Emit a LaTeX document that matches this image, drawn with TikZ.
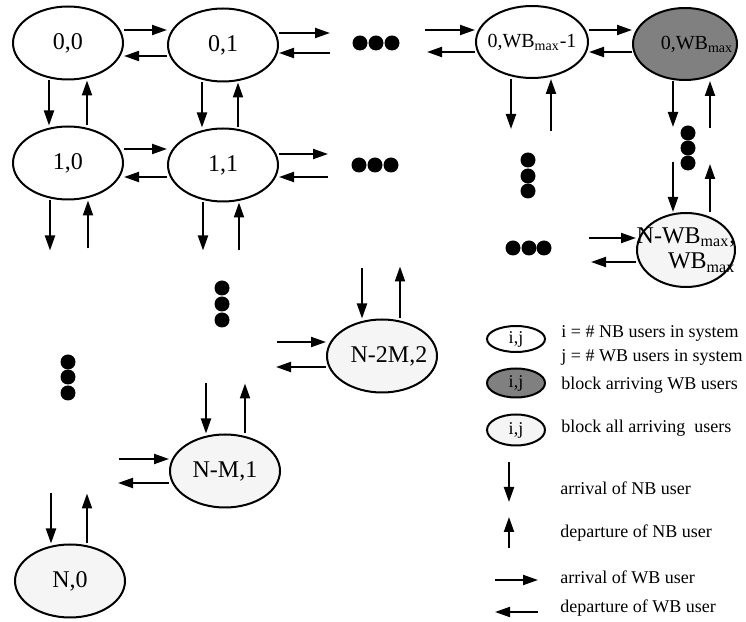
\documentclass[tikz,border=0pt]{standalone}
\usepackage{fontspec}
\setmainfont{Liberation Serif}
\usetikzlibrary{shapes.geometric,arrows.meta}
\definecolor{blockwb}{gray}{0.5}
\definecolor{blockall}{gray}{0.96}
\begin{document}
\begin{tikzpicture}[x=0.5pt,y=0.5pt,
  state/.style={ellipse,draw,line width=1pt,inner sep=0pt,minimum width=55pt,minimum height=36.5pt,font=\fontsize{12}{14}\selectfont},
  wbstate/.style={state,fill=blockwb},
  allstate/.style={state,fill=blockall},
  keystate/.style={minimum width=29pt,font=\fontsize{9}{11}\selectfont},
  arr/.style={line width=1pt,-{Triangle[length=7.5pt,width=5pt]}},
  legtext/.style={anchor=west,inner sep=0pt,font=\fontsize{9}{11}\selectfont}]
\useasboundingbox (0,0) rectangle (746,622);
%Trang thai hang 0
\node[state] (n00) at (68,579) {0,0};
\node[state] (n01) at (223,577) {0,1};
\node[state,minimum width=56pt,minimum height=36pt,font=\fontsize{10}{12}\selectfont] (nA) at (532,580) {\makebox[0pt]{0,WB\textsubscript{max}-1}};
\node[wbstate,minimum width=52pt,minimum height=36pt,font=\fontsize{10}{12}\selectfont] (nB) at (685,578) {\makebox[0pt]{\hspace{12pt}0,WB\textsubscript{max}}};
%Trang thai hang 1
\node[state] (n10) at (68,459) {1,0};
\node[state] (n11) at (223,457) {1,1};
%Trang thai chan
\node[allstate,minimum width=49pt,minimum height=37pt] (nC) at (686,372) {\makebox[0pt]{\shortstack[r]{N-WB\textsubscript{max},\\WB\textsubscript{max}}}};
\node[allstate] (nD) at (382,266) {\makebox[0pt]{\hspace{7pt}N-2M,2}};
\node[allstate] (nE) at (225,151) {N-M,1};
\node[allstate] (nF) at (70,41) {N,0};
%Mui ten ngang hang 0
\draw[arr] ([yshift=6.5pt]n00.east) -- ([yshift=6.5pt]n00.east -| n01.west);
\draw[arr] ([yshift=-6.5pt]n00.east -| n01.west) -- ([yshift=-6.5pt]n00.east);
\draw[arr] ([yshift=6pt]n01.east) -- ++(51,0);
\draw[arr] ([yshift=-4pt]n01.east) ++(51,0) -- ([yshift=-4pt]n01.east);
\draw[arr] ([yshift=6pt]nA.west) ++(-50,0) -- ([yshift=6pt]nA.west);
\draw[arr] ([yshift=-5pt]nA.west) -- ++(-48,0);
\draw[arr] ([yshift=6pt]nA.east) -- ([yshift=6pt]nA.east -| nB.west);
\draw[arr] ([yshift=-5pt]nA.east -| nB.west) -- ([yshift=-5pt]nA.east);
%Mui ten ngang hang 1
\draw[arr] ([yshift=7pt]n10.east) -- ([yshift=7pt]n10.east -| n11.west);
\draw[arr] ([yshift=-7pt]n10.east -| n11.west) -- ([yshift=-7pt]n10.east);
\draw[arr] ([yshift=5.5pt]n11.east) -- ++(49,0);
\draw[arr] ([yshift=-6pt]n11.east) ++(49,0) -- ([yshift=-6pt]n11.east);
%Mui ten doc
\draw[arr] ([xshift=-9.5pt]n00.south) -- ([xshift=-9.5pt]n00.south |- n10.north);
\draw[arr] ([xshift=9.5pt]n00.south |- n10.north) -- ([xshift=9.5pt]n00.south);
\draw[arr] ([xshift=-10.5pt]n01.south) -- ([xshift=-10.5pt]n01.south |- n11.north);
\draw[arr] ([xshift=7.5pt]n01.south |- n11.north) -- ([xshift=7.5pt]n01.south);
\draw[arr] ([xshift=-9pt]n10.south) -- ++(0,-50);
\draw[arr] ([xshift=10pt]n10.south) ++(0,-48) -- ([xshift=10pt]n10.south);
\draw[arr] ([xshift=-10pt]n11.south) -- ++(0,-48);
\draw[arr] ([xshift=8pt]n11.south) ++(0,-48) -- ([xshift=8pt]n11.south);
\draw[arr] ([xshift=-10.5pt]nA.south) -- ++(0,-50);
\draw[arr] ([xshift=9.5pt]nA.south) ++(0,-52) -- ([xshift=9.5pt]nA.south);
\draw[arr] ([xshift=-6pt]nB.south) -- ++(0,-46);
\draw[arr] ([xshift=12.5pt]nB.south) ++(0,-47) -- ([xshift=12.5pt]nB.south);
%Mui ten vao trang thai chan
\draw[arr] ([xshift=-6.5pt]nC.north) ++(0,50) -- ([xshift=-6.5pt]nC.north);
\draw[arr] ([xshift=12pt]nC.north) -- ++(0,48);
\draw[arr] ([yshift=6pt]nC.west) ++(-47,0) -- ([yshift=6pt]nC.west);
\draw[arr] ([yshift=-6pt]nC.west) -- ++(-45,0);
\draw[arr] ([xshift=-10pt]nD.north) ++(0,50) -- ([xshift=-10pt]nD.north);
\draw[arr] ([xshift=9pt]nD.north) -- ++(0,52);
\draw[arr] ([yshift=7pt]nD.west) ++(-49,0) -- ([yshift=7pt]nD.west);
\draw[arr] ([yshift=-5.5pt]nD.west) -- ++(-50,0);
\draw[arr] ([xshift=-9.5pt]nE.north) ++(0,50) -- ([xshift=-9.5pt]nE.north);
\draw[arr] ([xshift=10pt]nE.north) -- ++(0,50);
\draw[arr] ([yshift=6pt]nE.west) ++(-50,0) -- ([yshift=6pt]nE.west);
\draw[arr] ([yshift=-6pt]nE.west) -- ++(-51,0);
\draw[arr] ([xshift=-9.5pt]nF.north) ++(0,50) -- ([xshift=-9.5pt]nF.north);
\draw[arr] ([xshift=8.5pt]nF.north) -- ++(0,50);
%Dau cham
\foreach \x/\y in {360/579,376/579,392/579,359/457,375/457,391/457,
  688/489,688/474,688/459,528/462,528/446,528/431,513/374,529/374,544/374,
  68/260,68/245,68/229,222/334,222/318,222/302}
  \fill (\x,\y) circle[radius=3.75pt];
%Chu thich
\node[state,keystate,minimum height=13pt] (kOpen) at (516,283) {i,j};
\node[wbstate,keystate,minimum height=14.5pt] (kWB) at (516,239) {i,j};
\node[allstate,keystate,minimum height=15.5pt] (kAll) at (516,192) {i,j};
\node[legtext] (tI) at (561,289) {i = \# NB users in system};
\node[legtext] (tJ) at (561,265) {j = \# WB users in system};
\node[legtext] (tWB) at (561,237) {block arriving WB users};
\node[legtext] (tAll) at (561,194) {block all arriving\ \ users};
\node[legtext] (tNBin) at (560,134) {arrival of NB user};
\node[legtext] (tNBout) at (560,89) {departure of NB user};
\node[legtext] (tWBin) at (560,45) {arrival of WB user};
\node[legtext] (tWBout) at (560,14) {departure of WB user};
\draw[arr] (tNBin.west) ++(-51,26) -- ++(0,-40);
\draw[arr] (tNBout.west) ++(-51,-15) -- ++(0,31);
\draw[arr] (tWBin.west) ++(-65,-3) -- ++(43,0);
\draw[arr] (tWBout.west) ++(-22,-4) -- ++(-43,0);
\end{tikzpicture}
\end{document}
